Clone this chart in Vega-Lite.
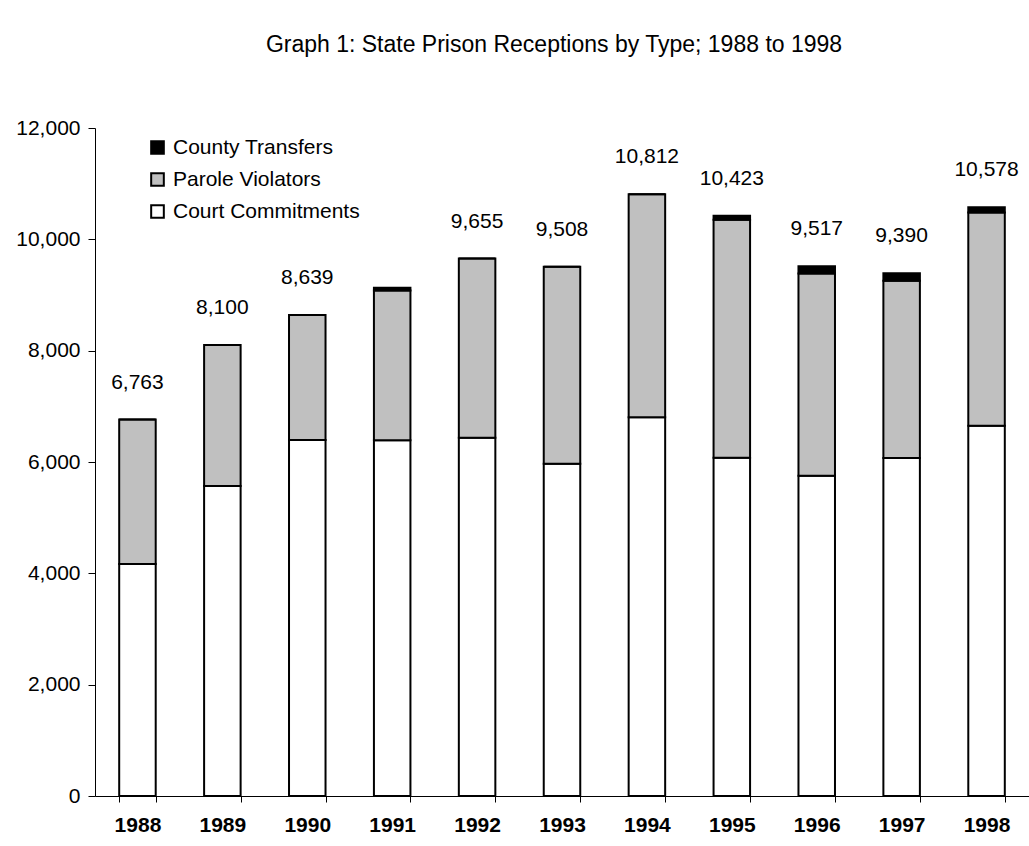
{
  "$schema": "https://vega.github.io/schema/vega-lite/v6.json",
  "autosize": {"type": "none"},
  "width": 934,
  "height": 668,
  "padding": {"left": 95, "top": 128, "right": 0, "bottom": 50},
  "background": "white",
  "config": {
    "view": {"stroke": null},
    "font": "Liberation Sans",
    "axis": {"labelFont": "Liberation Sans", "labelColor": "black", "domainColor": "black", "tickColor": "black", "grid": false}
  },
  "title": {
    "text": "Graph 1: State Prison Receptions by Type; 1988 to 1998",
    "fontSize": 23,
    "fontWeight": "normal",
    "font": "Liberation Sans",
    "color": "black",
    "anchor": "middle",
    "offset": 60,
    "dx": -8
  },
  "datasets": {
    "segments": [
      {"year": "1988", "type": "Court Commitments", "value": 4167},
      {"year": "1988", "type": "Parole Violators", "value": 2596},
      {"year": "1988", "type": "County Transfers", "value": 0},
      {"year": "1989", "type": "Court Commitments", "value": 5570},
      {"year": "1989", "type": "Parole Violators", "value": 2530},
      {"year": "1989", "type": "County Transfers", "value": 0},
      {"year": "1990", "type": "Court Commitments", "value": 6395},
      {"year": "1990", "type": "Parole Violators", "value": 2244},
      {"year": "1990", "type": "County Transfers", "value": 0},
      {"year": "1991", "type": "Court Commitments", "value": 6390},
      {"year": "1991", "type": "Parole Violators", "value": 2690},
      {"year": "1991", "type": "County Transfers", "value": 50},
      {"year": "1992", "type": "Court Commitments", "value": 6436},
      {"year": "1992", "type": "Parole Violators", "value": 3219},
      {"year": "1992", "type": "County Transfers", "value": 0},
      {"year": "1993", "type": "Court Commitments", "value": 5970},
      {"year": "1993", "type": "Parole Violators", "value": 3538},
      {"year": "1993", "type": "County Transfers", "value": 0},
      {"year": "1994", "type": "Court Commitments", "value": 6802},
      {"year": "1994", "type": "Parole Violators", "value": 4010},
      {"year": "1994", "type": "County Transfers", "value": 0},
      {"year": "1995", "type": "Court Commitments", "value": 6077},
      {"year": "1995", "type": "Parole Violators", "value": 4273},
      {"year": "1995", "type": "County Transfers", "value": 73},
      {"year": "1996", "type": "Court Commitments", "value": 5754},
      {"year": "1996", "type": "Parole Violators", "value": 3631},
      {"year": "1996", "type": "County Transfers", "value": 132},
      {"year": "1997", "type": "Court Commitments", "value": 6071},
      {"year": "1997", "type": "Parole Violators", "value": 3184},
      {"year": "1997", "type": "County Transfers", "value": 135},
      {"year": "1998", "type": "Court Commitments", "value": 6652},
      {"year": "1998", "type": "Parole Violators", "value": 3831},
      {"year": "1998", "type": "County Transfers", "value": 95}
    ],
    "seriesOrder": [
      {"type": "Court Commitments", "rank": 1},
      {"type": "Parole Violators", "rank": 2},
      {"type": "County Transfers", "rank": 3}
    ],
    "totals": [
      {"year": "1988", "total": 6763},
      {"year": "1989", "total": 8100},
      {"year": "1990", "total": 8639},
      {"year": "1992", "total": 9655},
      {"year": "1993", "total": 9508},
      {"year": "1994", "total": 10812},
      {"year": "1995", "total": 10423},
      {"year": "1996", "total": 9517},
      {"year": "1997", "total": 9390},
      {"year": "1998", "total": 10578}
    ]
  },
  "layer": [
    {
      "data": {"name": "segments"},
      "transform": [
        {"lookup": "type", "from": {"data": {"name": "seriesOrder"}, "key": "type", "fields": ["rank"]}}
      ],
      "mark": {"type": "bar", "stroke": "black", "strokeWidth": 2},
      "encoding": {
        "x": {
          "field": "year", "type": "ordinal", "title": null,
          "scale": {"paddingInner": 0.57, "paddingOuter": 0.285},
          "axis": {"labelAngle": 0, "labelFontSize": 21, "labelFontWeight": "bold", "tickBand": "extent", "tickSize": 6, "labelPadding": 12, "domainWidth": 1}
        },
        "y": {
          "field": "value", "type": "quantitative", "stack": "zero", "title": null,
          "scale": {"domain": [0, 12000], "nice": false},
          "axis": {"values": [0, 2000, 4000, 6000, 8000, 10000, 12000], "format": ",.0f", "labelFontSize": 21, "tickSize": 7, "labelPadding": 8}
        },
        "order": {"field": "rank", "type": "quantitative", "sort": "ascending"},
        "color": {
          "field": "type", "type": "nominal", "title": null,
          "scale": {"domain": ["County Transfers", "Parole Violators", "Court Commitments"], "range": ["black", "#c0c0c0", "white"]},
          "legend": {
            "orient": "none", "legendX": 52, "legendY": 9,
            "symbolType": "square", "symbolSize": 160, "symbolStrokeColor": "black", "symbolStrokeWidth": 2,
            "labelFontSize": 21, "labelFont": "Liberation Sans", "labelColor": "black", "labelOffset": 5, "rowPadding": 10,
            "labelLimit": 400
          }
        }
      }
    },
    {
      "data": {"name": "totals"},
      "mark": {"type": "text", "fontSize": 21, "font": "Liberation Sans", "color": "black", "dy": -37, "baseline": "middle"},
      "encoding": {
        "x": {"field": "year", "type": "ordinal"},
        "y": {"field": "total", "type": "quantitative"},
        "text": {"field": "total", "type": "quantitative", "format": ",.0f"}
      }
    }
  ]
}
